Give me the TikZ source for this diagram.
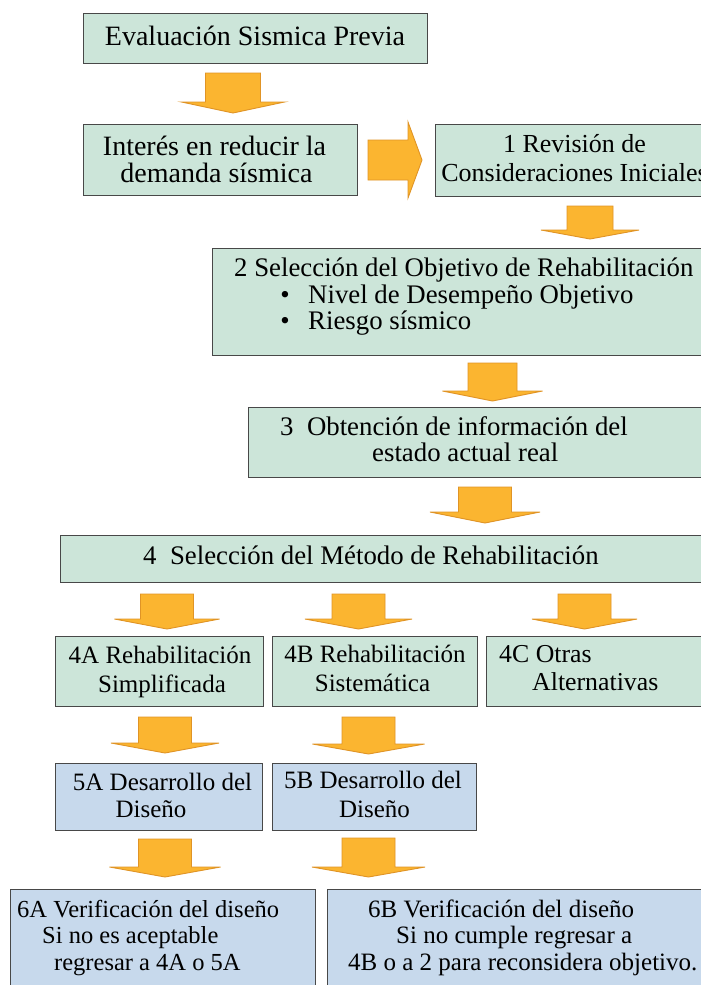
\documentclass[tikz,border=0pt]{standalone}
\usepackage{fontspec}
\setmainfont{Liberation Serif}
\definecolor{boxgreen}{RGB}{204,229,217}
\definecolor{boxblue}{RGB}{199,217,236}
\definecolor{boxline}{RGB}{72,72,72}
\definecolor{arrowfill}{RGB}{251,181,48}
\definecolor{arrowline}{RGB}{224,148,38}
\newcommand\fsz[1]{\fontsize{#1pt}{#1pt}\selectfont}
\newcommand\blkdown[6]{%
  \draw[blkarrow] ({#1-#5},{-#2}) -- ({#1+#5},{-#2}) -- ({#1+#5},{-#3}) -- ({#1+#6},{-#3})
    -- ({#1},{-#4}) -- ({#1-#6},{-#3}) -- ({#1-#5},{-#3}) -- cycle;}
\tikzset{
  gbox/.style={draw=boxline, line width=1.3pt, fill=boxgreen, inner sep=0pt, anchor=north west},
  bbox/.style={draw=boxline, line width=1.3pt, fill=boxblue, inner sep=0pt, anchor=north west},
  blkarrow/.style={fill=arrowfill, draw=arrowline, line width=0.9pt, line join=miter},
  tc/.style={inner sep=0pt, anchor=base, text=black},
  tl/.style={inner sep=0pt, anchor=base west, text=black},
}
\begin{document}
\begin{tikzpicture}[x=1pt,y=1pt]
\useasboundingbox (0,0) rectangle (701,-985);
\clip (0,0) rectangle (701,-985);
\fill[white] (0,0) rectangle (701,-985);

% boxes
\node[gbox, minimum width=344pt, minimum height=50pt] (b0) at (83,-13) {};
\node[gbox, minimum width=274pt, minimum height=71pt] (bI) at (83,-124) {};
\node[gbox, minimum width=279pt, minimum height=72pt] (b1) at (435,-124) {};
\node[gbox, minimum width=503pt, minimum height=107pt] (b2) at (212,-248) {};
\node[gbox, minimum width=467pt, minimum height=70pt] (b3) at (248,-407) {};
\node[gbox, minimum width=655pt, minimum height=47pt] (b4) at (60,-535) {};
\node[gbox, minimum width=208pt, minimum height=70pt] (b4A) at (55,-636) {};
\node[gbox, minimum width=205pt, minimum height=70pt] (b4B) at (272,-636) {};
\node[gbox, minimum width=229pt, minimum height=70pt] (b4C) at (486,-636) {};
\node[bbox, minimum width=207pt, minimum height=67pt] (b5A) at (55,-763) {};
\node[bbox, minimum width=204pt, minimum height=67pt] (b5B) at (272,-763) {};
\node[bbox, minimum width=305pt, minimum height=111pt] (b6A) at (10,-889) {};
\node[bbox, minimum width=388pt, minimum height=111pt] (b6B) at (327,-889) {};

% texts
\node[tc, font=\fsz{28}] (t0) at (255,-45) {Evaluación Sismica Previa};
\node[tc, font=\fsz{28}] (tI1) at (214.5,-155) {Interés en reducir la};
\node[tc, font=\fsz{28}] (tI2) at (216.5,-182) {demanda sísmica};
\node[tc, font=\fsz{26}] (t11) at (574.5,-152.7) {1 Revisión de};
\node[tc, font=\fsz{26}] (t12) at (574.5,-181) {Consideraciones Iniciales};
\node[tl, font=\fsz{26.8}] (t21) at (234,-276) {2 Selección del Objetivo de Rehabilitación};
\node[tc, font=\fsz{26.8}] (t22b) at (285,-303) {\textbullet};
\node[tl, font=\fsz{26.8}] (t22) at (308,-303) {Nivel de Desempeño Objetivo};
\node[tc, font=\fsz{26.8}] (t23b) at (285,-329) {\textbullet};
\node[tl, font=\fsz{26.8}] (t23) at (308,-329) {Riesgo sísmico};
\node[tl, font=\fsz{26.8}] (t31) at (280,-435) {3\hspace{0.5em}Obtención de información del};
\node[tl, font=\fsz{26.8}] (t32) at (372,-461.7) {estado actual real};
\node[tl, font=\fsz{26.8}] (t4) at (143,-564) {4\hspace{0.5em}Selección del Método de Rehabilitación};
\node[tc, font=\fsz{25}] (t4A1) at (160,-663) {4A Rehabilitación};
\node[tc, font=\fsz{25}] (t4A2) at (162,-692) {Simplificada};
\node[tc, font=\fsz{25}] (t4B1) at (375,-662) {4B Rehabilitación};
\node[tc, font=\fsz{25}] (t4B2) at (372.5,-691) {Sistemática};
\node[tl, font=\fsz{25.8}] (t4C1) at (499,-662) {4C Otras};
\node[tl, font=\fsz{25.8}] (t4C2) at (532,-690) {Alternativas};
\node[tc, font=\fsz{25}] (t5A1) at (162.5,-790) {5A Desarrollo del};
\node[tc, font=\fsz{25}] (t5A2) at (151,-817) {Diseño};
\node[tc, font=\fsz{25}] (t5B1) at (373,-788) {5B Desarrollo del};
\node[tc, font=\fsz{25}] (t5B2) at (374.5,-817) {Diseño};
\node[tl, font=\fsz{24.5}] (t6A1) at (17,-917) {6A Verificación del diseño};
\node[tl, font=\fsz{24.5}] (t6A2) at (42,-943) {Si no es aceptable};
\node[tl, font=\fsz{24.5}] (t6A3) at (54,-970) {regresar a 4A o 5A};
\node[tl, font=\fsz{25}] (t6B1) at (368,-917) {6B Verificación del diseño};
\node[tl, font=\fsz{25}] (t6B2) at (396,-943) {Si no cumple regresar a};
\node[tl, font=\fsz{25}] (t6B3) at (348,-970) {4B o a 2 para reconsidera objetivo.};

% block arrows
\blkdown{233}{73}{102}{113}{27.5}{51.5}
\draw[blkarrow] (368,-140) -- (408,-140) -- (408,-122) -- (422,-160) -- (408,-198) -- (408,-180) -- (368,-180) -- cycle;
\blkdown{590}{206}{230}{239}{23}{49}
\blkdown{492.5}{363}{391}{401}{24.5}{50}
\blkdown{485}{487}{512}{523}{26.5}{55}
\blkdown{167}{594}{619}{629}{26.5}{52.5}
\blkdown{358.5}{594}{619}{629}{26.5}{53.5}
\blkdown{584.5}{594}{619}{629}{26.5}{52.5}
\blkdown{165}{717}{743}{753}{26.5}{54}
\blkdown{368.5}{717}{744}{754}{26.5}{56}
\blkdown{165}{839}{867}{877}{26.5}{55.5}
\blkdown{368.5}{838}{867}{877}{26.5}{56.5}
\end{tikzpicture}
\end{document}
